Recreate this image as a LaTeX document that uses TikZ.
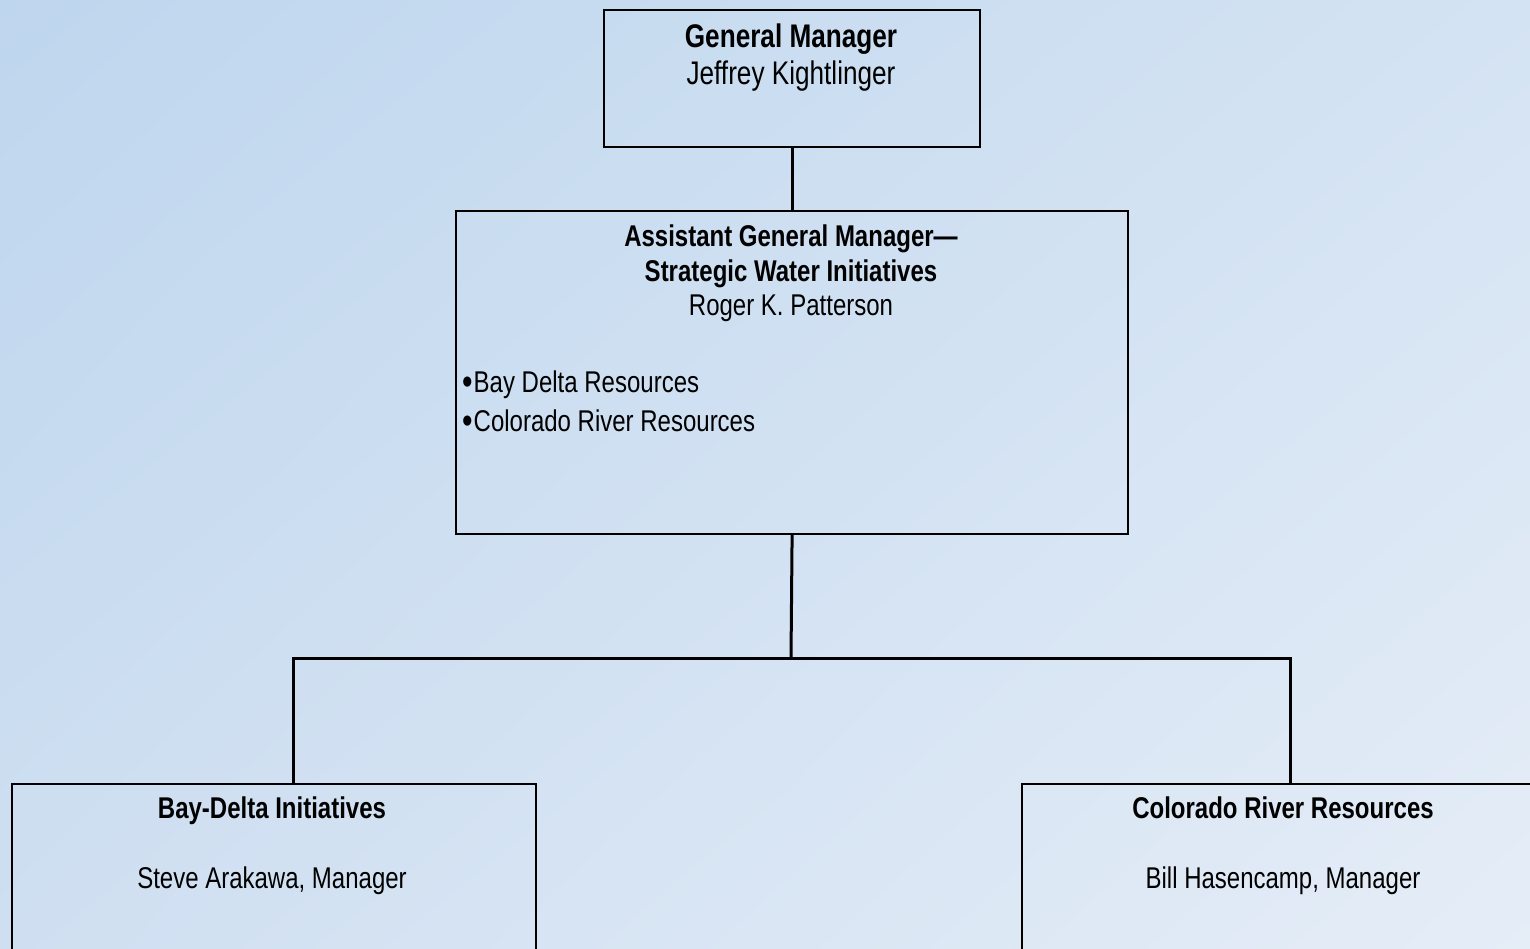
\documentclass[tikz,border=0pt]{standalone}
\usepackage{fontspec}
\usetikzlibrary{shadings}
\setmainfont{Liberation Sans}[FakeStretch=0.80]
\definecolor{bgTL}{RGB}{190,214,238}
\definecolor{bgTR}{RGB}{212,227,243}
\definecolor{bgBL}{RGB}{207,223,241}
\definecolor{bgBR}{RGB}{229,237,247}
\newcommand{\bigbullet}{\raisebox{-2.5pt}{\scalebox{1.25}{•}}\hspace{1pt}}
\begin{document}
\begin{tikzpicture}[x=1pt,y=-1pt,
  box/.style={draw=black, line width=2.2pt, rectangle, inner sep=0pt, anchor=north west},
  conn/.style={draw=black, line width=3pt},
  ttl/.style={font=\fontsize{30}{36}\selectfont\bfseries, inner sep=0pt, anchor=base},
  txt/.style={font=\fontsize{30}{36}\selectfont, inner sep=0pt, anchor=base},
  bigttl/.style={ttl, font=\fontsize{32.7}{38}\selectfont\bfseries},
  bigtxt/.style={txt, font=\fontsize{32.7}{38}\selectfont},
  bul/.style={font=\fontsize{30}{36}\selectfont, inner sep=0pt, anchor=base west}]
\clip (0,0) rectangle (1530,948);
\shade[upper left=bgTL, upper right=bgTR, lower left=bgBL, lower right=bgBR] (0,0) rectangle (1530,948);
% boxes
\node[box, minimum width=376pt, minimum height=137pt] (gm) at (603,9) {};
\node[box, minimum width=672pt, minimum height=323pt] (agm) at (455,210) {};
\node[box, minimum width=524pt, minimum height=250pt] (bd) at (10.5,782.5) {};
\node[box, minimum width=560pt, minimum height=250pt] (cr) at (1021,782.5) {};
% texts
\node[bigttl] (gm1) at (791,47) {General Manager};
\node[bigtxt] (gm2) at (791,84) {Jeffrey Kightlinger};
\node[ttl] (agm1) at (791,246) {Assistant General Manager—};
\node[ttl] (agm2) at (791,281) {Strategic Water Initiatives};
\node[txt] (agm3) at (791,315) {Roger K. Patterson};
\node[bul] (agm4) at (462,392) {\bigbullet Bay Delta Resources};
\node[bul] (agm5) at (462,431) {\bigbullet Colorado River Resources};
\node[ttl] (bd1) at (272,818) {Bay-Delta Initiatives};
\node[txt] (bd2) at (272,888) {Steve Arakawa, Manager};
\node[ttl] (cr1) at (1283,818) {Colorado River Resources};
\node[txt] (cr2) at (1283,888) {Bill Hasencamp, Manager};
% connectors
\coordinate (jn) at (791,658);
\draw[conn] (gm.south) -- (gm.south |- agm.north);
\draw[conn] (agm.south) -- (jn);
\draw[conn, line cap=rect] (293,658) coordinate (jl) -- (1290,658) coordinate (jr);
\draw[conn] (jl) -- (jl |- bd.north);
\draw[conn] (jr) -- (jr |- cr.north);
\end{tikzpicture}
\end{document}
